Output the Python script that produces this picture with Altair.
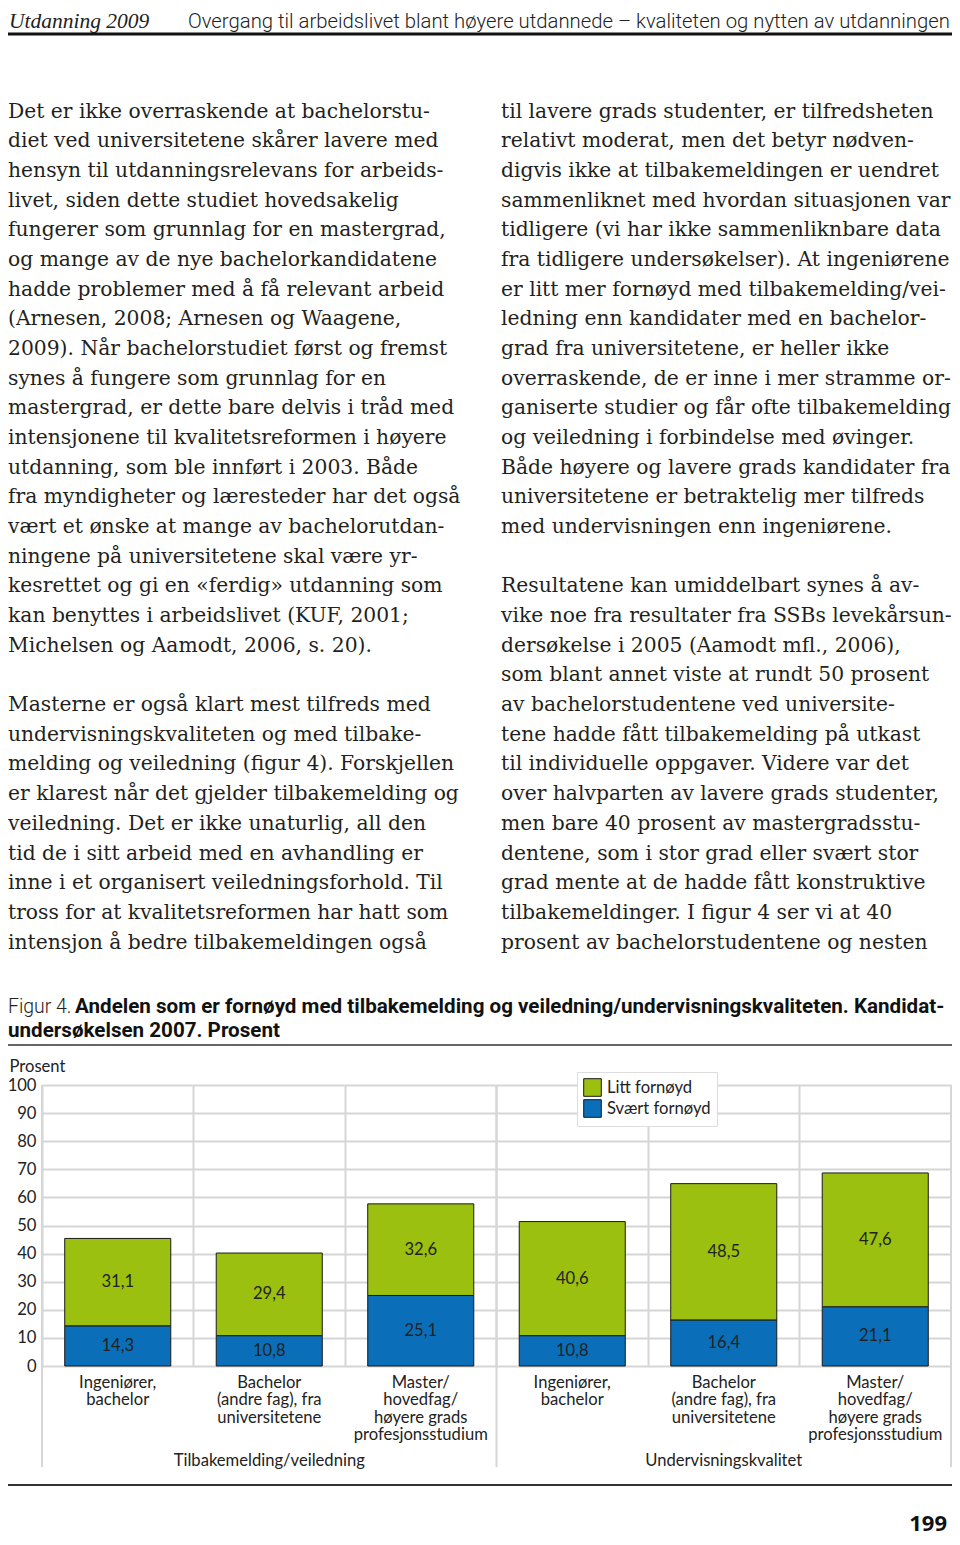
import altair as alt
import pandas as pd

# ---------------- data ----------------
header_left = "Utdanning 2009"
header_right = "Overgang til arbeidslivet blant høyere utdannede – kvaliteten og nytten av utdanningen"

col1_lines = [
    "Det er ikke overraskende at bachelorstu-",
    "diet ved universitetene skårer lavere med",
    "hensyn til utdanningsrelevans for arbeids-",
    "livet, siden dette studiet hovedsakelig",
    "fungerer som grunnlag for en mastergrad,",
    "og mange av de nye bachelorkandidatene",
    "hadde problemer med å få relevant arbeid",
    "(Arnesen, 2008; Arnesen og Waagene,",
    "2009). Når bachelorstudiet først og fremst",
    "synes å fungere som grunnlag for en",
    "mastergrad, er dette bare delvis i tråd med",
    "intensjonene til kvalitetsreformen i høyere",
    "utdanning, som ble innført i 2003. Både",
    "fra myndigheter og læresteder har det også",
    "vært et ønske at mange av bachelorutdan-",
    "ningene på universitetene skal være yr-",
    "kesrettet og gi en «ferdig» utdanning som",
    "kan benyttes i arbeidslivet (KUF, 2001;",
    "Michelsen og Aamodt, 2006, s. 20).",
    "",
    "Masterne er også klart mest tilfreds med",
    "undervisningskvaliteten og med tilbake-",
    "melding og veiledning (figur 4). Forskjellen",
    "er klarest når det gjelder tilbakemelding og",
    "veiledning. Det er ikke unaturlig, all den",
    "tid de i sitt arbeid med en avhandling er",
    "inne i et organisert veiledningsforhold. Til",
    "tross for at kvalitetsreformen har hatt som",
    "intensjon å bedre tilbakemeldingen også",
]

col2_lines = [
    "til lavere grads studenter, er tilfredsheten",
    "relativt moderat, men det betyr nødven-",
    "digvis ikke at tilbakemeldingen er uendret",
    "sammenliknet med hvordan situasjonen var",
    "tidligere (vi har ikke sammenliknbare data",
    "fra tidligere undersøkelser). At ingeniørene",
    "er litt mer fornøyd med tilbakemelding/vei-",
    "ledning enn kandidater med en bachelor-",
    "grad fra universitetene, er heller ikke",
    "overraskende, de er inne i mer stramme or-",
    "ganiserte studier og får ofte tilbakemelding",
    "og veiledning i forbindelse med øvinger.",
    "Både høyere og lavere grads kandidater fra",
    "universitetene er betraktelig mer tilfreds",
    "med undervisningen enn ingeniørene.",
    "",
    "Resultatene kan umiddelbart synes å av-",
    "vike noe fra resultater fra SSBs levekårsun-",
    "dersøkelse i 2005 (Aamodt mfl., 2006),",
    "som blant annet viste at rundt 50 prosent",
    "av bachelorstudentene ved universite-",
    "tene hadde fått tilbakemelding på utkast",
    "til individuelle oppgaver. Videre var det",
    "over halvparten av lavere grads studenter,",
    "men bare 40 prosent av mastergradsstu-",
    "dentene, som i stor grad eller svært stor",
    "grad mente at de hadde fått konstruktive",
    "tilbakemeldinger. I figur 4 ser vi at 40",
    "prosent av bachelorstudentene og nesten",
]

caption_lead = "Figur 4."
caption_line1 = "Andelen som er fornøyd med tilbakemelding og veiledning/undervisningskvaliteten. Kandidat-"
caption_line2 = "undersøkelsen 2007. Prosent"

groups = ["Tilbakemelding/veiledning", "Undervisningskvalitet"]
categories = [
    "Ingeniører,\nbachelor",
    "Bachelor\n(andre fag), fra\nuniversitetene",
    "Master/\nhovedfag/\nhøyere grads\nprofesjonsstudium",
]
series = ["Litt fornøyd", "Svært fornøyd"]
svaert_fornoyd = [14.3, 10.8, 25.1, 10.8, 16.4, 21.1]
litt_fornoyd = [31.1, 29.4, 32.6, 40.6, 48.5, 47.6]
y_ticks = [0, 10, 20, 30, 40, 50, 60, 70, 80, 90, 100]
y_title = "Prosent"
page_number = "199"

# ---------------- layout constants ----------------
SVG_LEFT, SVG_TOP = 8, 8             # where the page puts the drawing
PLOT_LEFT, PLOT_TOP = 42, 1085       # page position of the plot origin
PLOT_W, PLOT_H = 909, 281
TOTAL_W, TOTAL_H = 944, 1529


def cx(px):
    return px - PLOT_LEFT


def cy(py):
    return py - PLOT_TOP


GREEN = "#9bc00f"
BLUE = "#0a6fb8"
GRID = "#d6d6d6"
INK = "#222222"
CHART_FONT = "Lato"
CFS = 16.6
SERIF = "DejaVu Serif"
SANS = "Roboto"

# ---------------- tables ----------------
keys = []
rows = []
cat_rows = []
for gi, g in enumerate(groups):
    for ci, c in enumerate(categories):
        k = f"{gi}{ci}|{c}"
        keys.append(k)
        idx = gi * len(categories) + ci
        rows.append({"key": k, "series": series[1], "value": svaert_fornoyd[idx], "ord": 0})
        rows.append({"key": k, "series": series[0], "value": litt_fornoyd[idx], "ord": 1})
        cat_rows.append({"key": k, "label": c})
bars_df = pd.DataFrame(rows)
cats_df = pd.DataFrame(cat_rows)
groups_df = pd.DataFrame({"key": [keys[1], keys[4]], "group": groups})
sep_left_df = pd.DataFrame({"key": [keys[0], keys[3]]})
sep_right_df = pd.DataFrame({"key": [keys[-1]]})

LINE_STEP = 29.68
FIRST_BASE = 117.5
body_rows = []
for i, t in enumerate(col1_lines):
    if t:
        body_rows.append({"text": t, "px": cx(8), "py": cy(FIRST_BASE + LINE_STEP * i)})
for i, t in enumerate(col2_lines):
    if t:
        body_rows.append({"text": t, "px": cx(501), "py": cy(FIRST_BASE + LINE_STEP * i)})
body_df = pd.DataFrame(body_rows)

# ---------------- scales & axes ----------------
x_scale = alt.Scale(domain=keys, paddingInner=0, paddingOuter=0)
y_scale = alt.Scale(domain=[0, 100], nice=False, zero=True)

x_axis = alt.Axis(grid=True, bandPosition=0, labels=False, ticks=False, domain=False,
                  title=None, gridColor=GRID, gridWidth=2)
y_axis = alt.Axis(values=y_ticks, grid=True, gridColor=GRID, gridWidth=2,
                  ticks=False, tickSize=0, domain=False, labelFont=CHART_FONT,
                  labelFontSize=CFS, labelColor=INK, labelPadding=6, labelOverlap=False,
                  title=y_title, titleAngle=0, titleFont=CHART_FONT, titleFontSize=CFS,
                  titleFontWeight="normal", titleColor=INK, titleAlign="left",
                  titleBaseline="alphabetic", titleX=cx(9), titleY=cy(1071))

legend = alt.Legend(title=None, orient="none", legendX=cx(577), legendY=cy(1072),
                    direction="vertical", symbolType="square", symbolSize=310,
                    symbolStrokeColor="#1a1a1a", symbolStrokeWidth=1, symbolOpacity=1,
                    labelFont=CHART_FONT, labelFontSize=CFS, labelColor=INK,
                    labelOffset=5, rowPadding=-3, padding=6, fillColor="white",
                    strokeColor="#dddddd")


def X(**kw):
    return alt.X("key:N", scale=x_scale, axis=x_axis, sort=keys, **kw)


# ---------------- chart layers ----------------
bars = alt.Chart(bars_df).mark_bar(
    width=alt.RelativeBandSize(0.7), stroke="#1a1a1a", strokeWidth=1, opacity=1
).encode(
    x=X(),
    y=alt.Y("value:Q", stack="zero", scale=y_scale, axis=y_axis),
    color=alt.Color("series:N", scale=alt.Scale(domain=series, range=[GREEN, BLUE]),
                    legend=legend),
    order=alt.Order("ord:Q"),
)

values = alt.Chart(bars_df).transform_stack(
    stack="value", groupby=["key"], sort=[alt.SortField("ord")], as_=["v0", "v1"]
).transform_calculate(
    mid="(datum.v0 + datum.v1) / 2",
    lab="replace(format(datum.value, '.1f'), '.', ',')",
).mark_text(font=CHART_FONT, fontSize=CFS, color=INK, baseline="middle").encode(
    x=X(),
    y=alt.Y("mid:Q", scale=y_scale, axis=y_axis),
    text="lab:N",
)

cat_labels = alt.Chart(cats_df).mark_text(
    font=CHART_FONT, fontSize=CFS, color=INK, baseline="top", align="center",
    lineBreak="\n", lineHeight=17.3
).encode(x=X(), y=alt.value(cy(1375)), text="label:N")

group_labels = alt.Chart(groups_df).mark_text(
    font=CHART_FONT, fontSize=CFS, color=INK, baseline="middle", align="center"
).encode(x=X(), y=alt.value(cy(1461)), text="group:N")

sep_left = alt.Chart(sep_left_df).mark_rule(color=GRID, strokeWidth=2).encode(
    x=X(bandPosition=0), y=alt.value(0), y2=alt.value(cy(1467))
)
sep_right = alt.Chart(sep_right_df).mark_rule(color=GRID, strokeWidth=2).encode(
    x=X(bandPosition=1), y=alt.value(0), y2=alt.value(cy(1467))
)


# ---------------- page text ----------------
def text_layer(txt, px, py, **kw):
    return alt.Chart(pd.DataFrame({"t": [txt]})).mark_text(
        align=kw.pop("align", "left"), baseline="alphabetic", **kw
    ).encode(x=alt.value(cx(px)), y=alt.value(cy(py)), text="t:N")


def hrule(py, width, color):
    return alt.Chart(pd.DataFrame({"r": [0]})).mark_rule(
        color=color, strokeWidth=width
    ).encode(x=alt.value(cx(8)), x2=alt.value(cx(952)), y=alt.value(cy(py)))


head_l = text_layer(header_left, 9, 28, font="Liberation Serif", fontSize=21.5,
                    fontStyle="italic", color=INK)
head_r = text_layer(header_right, 188, 28, font=SANS, fontSize=20.3, fontWeight=300,
                    color=INK)
head_rule = hrule(34, 3, "#111111")

body = alt.Chart(body_df).mark_text(
    align="left", baseline="alphabetic", font=SERIF, fontSize=20.3, color="#231f20"
).encode(
    x=alt.X("px:Q", scale=None, axis=None),
    y=alt.Y("py:Q", scale=None, axis=None),
    text="text:N",
)

cap_a = text_layer(caption_lead, 8, 1013, font=SANS, fontSize=19.4, fontWeight=300,
                   color=INK)
cap_b = text_layer(caption_line1, 75, 1013, font=SANS, fontSize=20.6,
                   fontWeight="bold", color="#111111")
cap_c = text_layer(caption_line2, 8, 1037, font=SANS, fontSize=20.6,
                   fontWeight="bold", color="#111111")
cap_rule = hrule(1045, 1.5, "#333333")
bottom_rule = hrule(1485, 2, "#333333")
page_no = text_layer(page_number, 947, 1531, font="Open Sans", fontSize=22,
                     fontWeight="bold", color="#111111", align="right")

chart = alt.layer(
    bars, values, cat_labels, group_labels, sep_left, sep_right,
    head_l, head_r, head_rule, body, cap_a, cap_b, cap_c, cap_rule,
    bottom_rule, page_no,
).properties(
    width=PLOT_W,
    height=PLOT_H,
    padding={"left": PLOT_LEFT - SVG_LEFT, "top": PLOT_TOP - SVG_TOP,
             "right": TOTAL_W - (PLOT_LEFT - SVG_LEFT) - PLOT_W,
             "bottom": TOTAL_H - (PLOT_TOP - SVG_TOP) - PLOT_H},
    autosize=alt.AutoSizeParams(type="none"),
).configure_view(
    stroke=GRID, strokeWidth=2
).configure(background="white")

chart.save("out.html", embed_options={"renderer": "svg", "actions": False})
